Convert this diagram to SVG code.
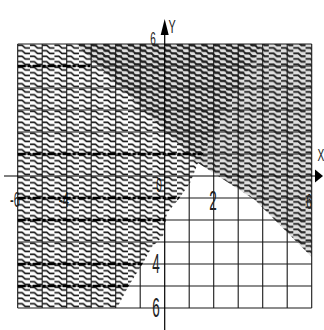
<svg xmlns="http://www.w3.org/2000/svg" width="324" height="330" viewBox="0 0 324 330">
<style>
.lbl{font-family:"Liberation Sans",Arial,sans-serif;fill:#222;text-anchor:middle}
.grid{stroke:#1a1a1a;stroke-width:1.1;fill:none}
.bold{stroke:#000;stroke-width:2.6;fill:none;stroke-dasharray:8 2 3 2}
.axis{stroke:#000;stroke-width:1.2;fill:none}
</style>
<defs>
<pattern id="patA" patternUnits="userSpaceOnUse" x="17.7" y="44" width="12.25" height="5.5">
<path d="M0,1.2 H4.5 L7.5,4 H12.25" stroke="#111" stroke-width="1.6" fill="none"/>
</pattern>
<pattern id="patB" patternUnits="userSpaceOnUse" x="23.8" y="46.75" width="12.25" height="5.5">
<path d="M0,1.2 H5 L8,4 H12.25" stroke="#222" stroke-width="1.9" fill="none"/>
</pattern>
<clipPath id="leftClip">
<polygon points="17.7,44 262,44 198,163 190,183 178,200 167,213 163,236 152,247 143,263 128,287 117,308 17.7,308"/>
</clipPath>
</defs>
<rect width="324" height="330" fill="#fff"/>
<g id="hidden-labels">
<text class="lbl" transform="translate(15,207) scale(0.5,1)" font-size="22">-6</text>
<text class="lbl" transform="translate(64,207) scale(0.5,1)" font-size="22">-4</text>
<text class="lbl" transform="translate(159,192) scale(0.5,1)" font-size="20">0</text>
<text class="lbl" transform="translate(309,209) scale(0.5,1)" font-size="22">6</text>
</g>
<g id="regions">
<polygon id="upper-tint" fill="#000" fill-opacity="0.12" points="76,44 311.7,44 311.7,257 255,200 198,163"/>
<polygon id="left-region" fill="url(#patA)" points="17.7,44 262,44 198,163 190,183 178,200 167,213 163,236 152,247 143,263 128,287 117,308 17.7,308"/>
<polygon id="upper-region" fill="url(#patB)" points="76,44 311.7,44 311.7,257 255,200 198,163"/>
</g>
<g id="grid">
<path class="grid" d="M17.7,44V308M42.2,44V308M66.7,44V308M91.2,44V308M115.7,44V308M140.2,44V308M189.2,44V308M213.7,44V308M238.2,44V308M262.7,44V308M287.2,44V308M311.7,44V308"/>
<path class="grid" d="M17.7,44H311.7M17.7,66H311.7M17.7,88H311.7M17.7,110H311.7M17.7,132H311.7M17.7,154H311.7M17.7,198H311.7M17.7,220H311.7M17.7,242H311.7M17.7,264H311.7M17.7,286H311.7M17.7,308H311.7"/>
<g clip-path="url(#leftClip)">
<path class="bold" d="M17.7,66H90M17.7,154H311.7M17.7,198H311.7M17.7,220H311.7M17.7,264H311.7M17.7,286H311.7"/>
</g>
</g>
<g id="axes">
<path class="axis" d="M4,176H316"/>
<polygon points="323,176 315,169.5 315,182.5" fill="#000"/>
<path class="axis" d="M164.7,330V32"/>
<polygon points="164.7,19 160.7,35 168.7,35" fill="#000"/>
</g>
<g id="labels">
<text class="lbl" transform="translate(172,33) scale(0.6,1)" font-size="18">Y</text>
<text class="lbl" transform="translate(321,161) scale(0.6,1)" font-size="17">X</text>
<text class="lbl" transform="translate(153,45) scale(0.55,1)" font-size="18">6</text>
<text class="lbl" transform="translate(213,210) scale(0.5,1)" font-size="27">2</text>
<text class="lbl" transform="translate(156,273) scale(0.5,1)" font-size="27">4</text>
<text class="lbl" transform="translate(156,317) scale(0.5,1)" font-size="27">6</text>
</g>
</svg>
